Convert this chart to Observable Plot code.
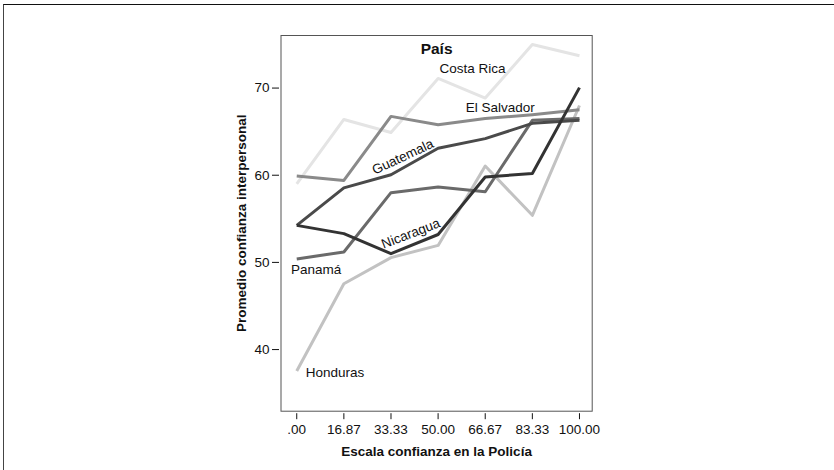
<!DOCTYPE html>
<html>
<head>
<meta charset="utf-8">
<script src="https://cdn.jsdelivr.net/npm/d3@7"></script>
<script src="https://cdn.jsdelivr.net/npm/@observablehq/plot@0.6"></script>
<style>
  html, body { margin: 0; padding: 0; background: #fff; }
  #wrap { position: relative; width: 834px; height: 470px; overflow: hidden; }
  #border { position: absolute; left: 3px; top: 4px; right: -10px; bottom: -10px;
            border-top: 1.5px solid #111; border-left: 1.5px solid #444; }
  #chart { position: absolute; left: 0; top: 0; }
</style>
</head>
<body>
<div id="wrap"><div id="border"></div><div id="chart"></div></div>
<script>
const xLabels = [".00", "16.87", "33.33", "50.00", "66.67", "83.33", "100.00"];
const countries = ["Costa Rica", "Honduras", "El Salvador", "Panamá", "Guatemala", "Nicaragua"];
const colors = ["#e4e4e4", "#c2c2c2", "#8a8a8a", "#6a6a6a", "#4a4a4a", "#333333"];
const costaRica  = [59.0, 66.4, 64.9, 71.1, 68.85, 75.0, 73.7];
const honduras   = [37.55, 47.55, 50.55, 51.95, 61.05, 55.4, 68.0];
const elSalvador = [59.9, 59.4, 66.75, 65.8, 66.5, 66.95, 67.5];
const panama     = [50.4, 51.2, 58.0, 58.65, 58.1, 66.3, 66.5];
const guatemala  = [54.25, 58.55, 60.05, 63.1, 64.2, 65.95, 66.3];
const nicaragua  = [54.25, 53.3, 51.0, 53.2, 59.8, 60.2, 70.05];
const seriesValues = [costaRica, honduras, elSalvador, panama, guatemala, nicaragua];

// label annotations (x in category index units, y in data units)
const labelNames = ["Costa Rica", "El Salvador", "Guatemala", "Nicaragua", "Panamá", "Honduras"];
const labelX = [3.73, 4.32, 2.25, 2.42, 0.41, 0.81];
const labelY = [72.2, 67.79, 62.1, 53.3, 49.17, 37.32];
const labelRotate = [0, 0, -25, -21, 0, 0];

const data = [];
countries.forEach((c, k) => seriesValues[k].forEach((v, i) => data.push({country: c, i, v})));
const labels = labelNames.map((n, k) => ({name: n, x: labelX[k], y: labelY[k], r: labelRotate[k]}));

const font = "'Liberation Sans', Arial, Helvetica, sans-serif";

const chart = Plot.plot({
  width: 834,
  height: 470,
  marginLeft: 280.5,
  marginRight: 242.3,
  marginTop: 35,
  marginBottom: 59.3,
  style: {fontFamily: font, fontSize: "13px", color: "#111", background: "transparent"},
  x: {type: "linear", domain: [-0.334, 6.27]},
  y: {domain: [32.93, 76.03]},
  color: {domain: countries, range: colors},
  marks: [
    Plot.frame({stroke: "#555", strokeWidth: 1}),
    Plot.line(data, {x: "i", y: "v", z: "country", stroke: "country", strokeWidth: 3, strokeLinejoin: "round", strokeLinecap: "butt"}),
    ...labels.map(l => Plot.text([l], {x: "x", y: "y", text: "name", rotate: l.r, fontSize: 13.5, fill: "#111"})),
    Plot.text(["País"], {frameAnchor: "top", dy: 7.5, text: d => d, fontSize: 15.5, fontWeight: "bold", fill: "#111"}),
    Plot.axisX({ticks: d3.range(xLabels.length), tickFormat: i => xLabels[i], tickSize: 6, tickPadding: 5, dy: 2.5,
      fontSize: 13.5, label: "Escala confianza en la Policía", labelAnchor: "center", labelArrow: "none", labelOffset: 45}),
    Plot.axisY({ticks: [40, 50, 60, 70], tickSize: 7, tickPadding: 3, dx: -1.5, fontSize: 13.5,
      label: "Promedio confianza interpersonal", labelAnchor: "center", labelArrow: "none", labelOffset: 45})
  ]
});
// bold axis titles
chart.querySelectorAll("g[aria-label='x-axis label'] text, g[aria-label='y-axis label'] text").forEach(t => {
  t.setAttribute("font-weight", "bold");
  t.setAttribute("font-size", "13.5");
});
document.getElementById("chart").appendChild(chart);
</script>
</body>
</html>
